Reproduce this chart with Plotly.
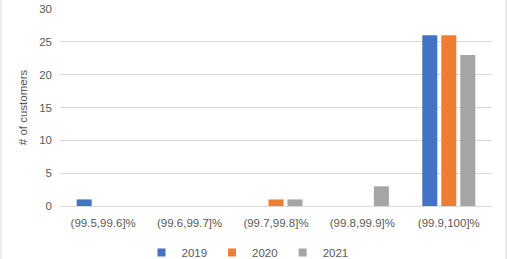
import plotly.graph_objects as go

categories = ["(99.5,99.6]%", "(99.6,99.7]%", "(99.7,99.8]%", "(99.8,99.9]%", "(99.9,100]%"]
series_names = ["2019", "2020", "2021"]
values_2019 = [1, 0, 0, 0, 26]
values_2020 = [0, 0, 1, 0, 26]
values_2021 = [0, 0, 1, 3, 23]
colors = ["#4472C4", "#ED7D31", "#A5A5A5"]
y_ticks = [0, 5, 10, 15, 20, 25, 30]

W, H = 507, 259
L, R, T, B = 60, 15, 9, 53
pw, ph = W - L - R, H - T - B

fig = go.Figure()
for name, vals, col in zip(series_names, [values_2019, values_2020, values_2021], colors):
    fig.add_trace(go.Bar(x=categories, y=vals, name=name, showlegend=False,
                         marker=dict(color=col, line=dict(width=0))))
# legend entries with small square markers
for name, col in zip(series_names, colors):
    fig.add_trace(go.Scatter(x=[None], y=[None], mode="markers", name=name,
                             marker=dict(symbol="square", size=8, color=col)))

text_color = "#595959"
fig.update_layout(
    width=W, height=H,
    margin=dict(l=L, r=R, t=T, b=B, autoexpand=False),
    paper_bgcolor="white", plot_bgcolor="white",
    barmode="group", bargap=0.34, bargroupgap=0.21,
    font=dict(family="Liberation Sans, Arial, sans-serif", size=11, color=text_color),
    showlegend=True,
    legend=dict(orientation="h", x=0.434, xanchor="center", y=(T + ph - 238) / ph, yanchor="top",
                font=dict(size=11.5, color=text_color), itemwidth=30, traceorder="normal",
                tracegroupgap=0, bgcolor="rgba(0,0,0,0)"),
    xaxis=dict(showgrid=False, showline=True, linecolor="#D9D9D9", linewidth=1,
               ticks="", ticklabelstandoff=6, tickfont=dict(size=11.5, color=text_color)),
    yaxis=dict(range=[0, 30], tickvals=y_ticks, showgrid=True, gridcolor="#D9D9D9", gridwidth=1,
               zeroline=False, showline=False, ticks="", ticklabelstandoff=7,
               tickfont=dict(size=11.5, color=text_color),
               title=dict(text="# of customers", font=dict(size=11.5, color=text_color), standoff=9)),
)
for px in (1, 506):
    fig.add_shape(type="line", xref="paper", yref="paper",
                  x0=(px - L) / pw, x1=(px - L) / pw,
                  y0=(T + ph - H) / ph, y1=(T + ph) / ph,
                  line=dict(color="#D9D9D9", width=1))

fig.write_html("out.html")
